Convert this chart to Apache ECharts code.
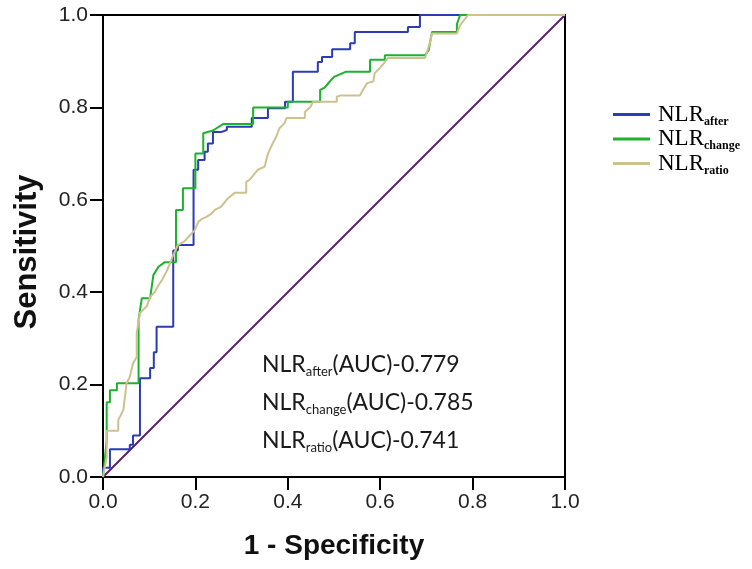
<!DOCTYPE html>
<html>
<head>
<meta charset="utf-8">
<script src="https://cdn.jsdelivr.net/npm/echarts@6/dist/echarts.min.js"></script>
<style>
  html, body { margin: 0; padding: 0; background: #fff; }
  #chart { width: 752px; height: 569px; }
</style>
</head>
<body>
<div id="chart"></div>
<script>
// ROC points: [1 - specificity, sensitivity]
var nlrAfter = [
    [0, 0], [0, 0.02], [0.015, 0.02], [0.015, 0.06], [0.058, 0.06], [0.058, 0.07], [0.065, 0.07],
    [0.065, 0.09], [0.08, 0.09], [0.08, 0.214], [0.102, 0.214], [0.102, 0.236], [0.11, 0.236],
    [0.11, 0.27], [0.116, 0.27], [0.116, 0.325], [0.152, 0.325], [0.152, 0.49], [0.162, 0.49],
    [0.162, 0.502], [0.196, 0.502], [0.196, 0.665], [0.206, 0.665], [0.206, 0.686], [0.22, 0.686],
    [0.22, 0.704], [0.227, 0.704], [0.227, 0.722], [0.238, 0.722], [0.238, 0.747], [0.257, 0.747],
    [0.257, 0.751], [0.268, 0.751], [0.268, 0.758], [0.322, 0.758], [0.322, 0.777], [0.357, 0.777],
    [0.357, 0.798], [0.394, 0.798], [0.394, 0.812], [0.411, 0.812], [0.411, 0.877], [0.465, 0.877],
    [0.465, 0.898], [0.474, 0.898], [0.474, 0.909], [0.496, 0.909], [0.496, 0.926], [0.535, 0.926],
    [0.535, 0.939], [0.545, 0.939], [0.545, 0.963], [0.66, 0.963], [0.66, 0.974], [0.686, 0.974],
    [0.686, 1], [1, 1]
];
var nlrChange = [
    [0, 0], [0.008, 0.08], [0.008, 0.162], [0.015, 0.162], [0.015, 0.188], [0.03, 0.188],
    [0.03, 0.203], [0.077, 0.203], [0.077, 0.34], [0.084, 0.387], [0.102, 0.387], [0.109, 0.437],
    [0.12, 0.455], [0.134, 0.465], [0.158, 0.465], [0.158, 0.578], [0.173, 0.578], [0.173, 0.625],
    [0.2, 0.625], [0.2, 0.70], [0.217, 0.70], [0.217, 0.744], [0.238, 0.75], [0.26, 0.764],
    [0.325, 0.764], [0.325, 0.80], [0.40, 0.80], [0.40, 0.812], [0.47, 0.812], [0.47, 0.838],
    [0.48, 0.843], [0.49, 0.855], [0.5, 0.866], [0.525, 0.877], [0.578, 0.877], [0.578, 0.903],
    [0.61, 0.903], [0.61, 0.913], [0.697, 0.913], [0.705, 0.924], [0.712, 0.963], [0.766, 0.963],
    [0.766, 0.98], [0.773, 1], [1, 1]
];
var nlrRatio = [
    [0, 0], [0.008, 0.043], [0.008, 0.10], [0.033, 0.10], [0.033, 0.123], [0.044, 0.145],
    [0.051, 0.203], [0.058, 0.217], [0.065, 0.246], [0.073, 0.26], [0.073, 0.311], [0.08, 0.355],
    [0.095, 0.37], [0.102, 0.39], [0.112, 0.40], [0.12, 0.415], [0.127, 0.425], [0.137, 0.444],
    [0.144, 0.46], [0.152, 0.48], [0.162, 0.502], [0.176, 0.51], [0.19, 0.525], [0.199, 0.535],
    [0.206, 0.552], [0.213, 0.558], [0.224, 0.563], [0.235, 0.57], [0.242, 0.578], [0.256, 0.585],
    [0.27, 0.603], [0.285, 0.615], [0.31, 0.615], [0.31, 0.639], [0.317, 0.643], [0.335, 0.665],
    [0.35, 0.672], [0.357, 0.70], [0.364, 0.715], [0.375, 0.737], [0.382, 0.755], [0.393, 0.766],
    [0.397, 0.777], [0.437, 0.777], [0.437, 0.79], [0.448, 0.80], [0.455, 0.812], [0.506, 0.812],
    [0.506, 0.823], [0.515, 0.826], [0.556, 0.826], [0.565, 0.842], [0.572, 0.853], [0.585, 0.856],
    [0.588, 0.874], [0.599, 0.885], [0.61, 0.898], [0.617, 0.907], [0.697, 0.907], [0.704, 0.928],
    [0.708, 0.942], [0.712, 0.96], [0.766, 0.96], [0.773, 0.978], [0.79, 1], [1, 1]
];
var reference = [[0, 0], [1, 1]];

var seriesNames = ['NLRafter', 'NLRchange', 'NLRratio'];
var subNames = ['after', 'change', 'ratio'];
var aucValues = ['0.779', '0.785', '0.741'];
var colors = ['#2b3cb4', '#1db12c', '#cdc28e'];

var chart = echarts.init(document.getElementById('chart'));

// legend / annotation texts with subscripts
function legendText(name) {
    var i = seriesNames.indexOf(name);
    return '{m|NLR}{s|' + subNames[i] + '}';
}
var aucLines = [];
for (var i = 0; i < subNames.length; i++) {
    aucLines.push({
        type: 'text',
        left: 262,
        top: 353 + i * 38,
        style: {
            text: '{m|NLR}{s|' + subNames[i] + '}{m|(AUC)-' + aucValues[i] + '}',
            rich: {
                m: { fontFamily: 'Lato', fontSize: 23, fill: '#1a1a1a', lineHeight: 28 },
                s: { fontFamily: 'Lato', fontSize: 13, fill: '#1a1a1a', lineHeight: 22, verticalAlign: 'bottom' }
            }
        }
    });
}

var axisCommon = {
    type: 'value',
    min: 0,
    max: 1,
    interval: 0.2,
    nameLocation: 'middle',
    nameTextStyle: { fontFamily: 'Liberation Sans', fontWeight: 'bold', fontSize: 28, color: '#111' },
    axisLine: { show: true, lineStyle: { color: '#000', width: 2 } },
    axisTick: { show: true, length: 13, lineStyle: { color: '#000', width: 2 } },
    axisLabel: {
        fontFamily: 'Liberation Sans', fontSize: 21, color: '#222',
        formatter: function (v) { return v.toFixed(1); }
    },
    splitLine: { show: false }
};

var option = {
    backgroundColor: '#fff',
    animation: false,
    grid: {
        left: 103, top: 15, width: 462, height: 462,
        show: true, borderColor: '#000', borderWidth: 2
    },
    xAxis: Object.assign({}, axisCommon, {
        name: '1 - Specificity', nameGap: 55,
        axisLabel: Object.assign({}, axisCommon.axisLabel, { margin: 15 })
    }),
    yAxis: Object.assign({}, axisCommon, {
        name: 'Sensitivity', nameGap: 60, nameRotate: 90,
        nameTextStyle: Object.assign({}, axisCommon.nameTextStyle, { fontSize: 31, padding: [0, 12, 0, 0] }),
        axisLabel: Object.assign({}, axisCommon.axisLabel, { margin: 15 })
    }),
    legend: {
        orient: 'vertical',
        left: 608,
        top: 98,
        itemGap: 0,
        itemWidth: 37,
        itemHeight: 3,
        icon: 'rect',
        data: seriesNames,
        formatter: legendText,
        textStyle: {
            rich: {
                m: { fontFamily: 'Liberation Serif', fontSize: 23, color: '#000', lineHeight: 26, padding: [0, 0, 0, 3] },
                s: { fontFamily: 'Liberation Serif', fontSize: 12, fontWeight: 'bold', color: '#000', lineHeight: 20, verticalAlign: 'bottom' }
            }
        }
    },
    graphic: aucLines,
    series: [
        {
            name: 'Reference', type: 'line', data: reference, symbol: 'none',
            lineStyle: { color: '#5b1a6e', width: 2 }, silent: true
        },
        {
            name: seriesNames[0], type: 'line', data: nlrAfter, symbol: 'none',
            color: colors[0], lineStyle: { width: 2 }
        },
        {
            name: seriesNames[1], type: 'line', data: nlrChange, symbol: 'none',
            color: colors[1], lineStyle: { width: 2 }
        },
        {
            name: seriesNames[2], type: 'line', data: nlrRatio, symbol: 'none',
            color: colors[2], lineStyle: { width: 2 }
        }
    ]
};
chart.setOption(option);
</script>
</body>
</html>
